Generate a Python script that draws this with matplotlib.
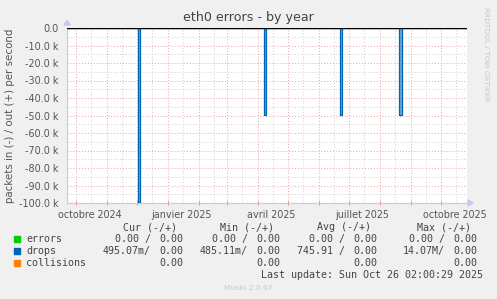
import numpy as np
import matplotlib
matplotlib.use('Agg')
import matplotlib.pyplot as plt
import matplotlib.dates as mdates
from datetime import datetime, timedelta

# drops spikes (in = negative), start / end day and value (packets/s)
spike_start = ['2024-12-02', '2025-04-07', '2025-06-22', '2025-08-20']
spike_end = ['2024-12-04', '2025-04-09', '2025-06-24', '2025-08-23']
spike_drops = [-99500, -49500, -49500, -49500]

yticks = [0, -10000, -20000, -30000, -40000, -50000, -60000, -70000, -80000, -90000, -100000]
ytick_labels = ['0.0', '-10.0 k', '-20.0 k', '-30.0 k', '-40.0 k', '-50.0 k',
                '-60.0 k', '-70.0 k', '-80.0 k', '-90.0 k', '-100.0 k']
xtick_dates = ['2024-10-15', '2025-01-15', '2025-04-15', '2025-07-15', '2025-10-15']
xtick_labels = ['octobre 2024', 'janvier 2025', 'avril 2025', 'juillet 2025', 'octobre 2025']

legend_names = ['errors', 'drops', 'collisions']
legend_colors = ['#00CC00', '#0066B3', '#FF8000']
cur_vals = [('0.00 /', '0.00'), ('495.07m/', '0.00'), ('', '0.00')]
min_vals = [('0.00 /', '0.00'), ('485.11m/', '0.00'), ('', '0.00')]
avg_vals = [('0.00 /', '0.00'), ('745.91 /', '0.00'), ('', '0.00')]
max_vals = [('0.00 /', '0.00'), ('14.07M/', '0.00'), ('', '0.00')]
last_update = 'Last update: Sun Oct 26 02:00:29 2025'

W, H = 497, 299
fig = plt.figure(figsize=(W / 100, H / 100), dpi=100, facecolor='#F0F0F0')


def px(x, y):
    return x / W, 1 - y / H


ax = fig.add_axes([67 / W, (H - 203) / H, 400 / W, 175 / H])
ax.set_facecolor('white')

t0 = datetime(2024, 9, 22, 12)
t1 = t0 + timedelta(days=400)
ax.set_xlim(mdates.date2num(t0), mdates.date2num(t1))
ax.set_ylim(-100000, 0)

# grid: red at month starts / 10k, grey in between
month_starts = []
d = datetime(2024, 9, 1)
while d < t1:
    xm = mdates.date2num(d)
    xh = mdates.date2num(d + timedelta(days=15))
    if xm > ax.get_xlim()[0]:
        month_starts.append(xm)
    ax.axvline(xm, color='#e9a3a3', lw=0.7, ls=(0, (1, 2)), zorder=1)
    ax.axvline(xh, color='#cfcfcf', lw=0.7, ls=(0, (1, 2)), zorder=1)
    d = datetime(d.year + (d.month // 12), d.month % 12 + 1, 1)
for v in range(0, -100001, -5000):
    c = '#e9a3a3' if v % 10000 == 0 else '#cfcfcf'
    ax.axhline(v, color=c, lw=0.7, ls=(0, (1, 2)), zorder=1)

# drops series as steps
xs = [mdates.date2num(t0)]
ys = [0]
for s, e, v in zip(spike_start, spike_end, spike_drops):
    xs_ = mdates.date2num(datetime.fromisoformat(s))
    xe_ = mdates.date2num(datetime.fromisoformat(e))
    xs += [xs_, xs_, xe_, xe_]
    ys += [0, v, v, 0]
xs.append(mdates.date2num(t1))
ys.append(0)
ax.fill_between(xs, ys, 0, color='#6fa6d8', lw=0, zorder=2)
ax.plot(xs, ys, color='#0066B3', lw=0.9, zorder=3)
ax.axhline(0, color='black', lw=1.0, zorder=4)

for sp in ['top', 'right']:
    ax.spines[sp].set_visible(False)
ax.spines['left'].set_color('#c8c8e8')
ax.spines['bottom'].set_color('#c8c8e8')
ax.spines['left'].set_linewidth(0.8)
ax.spines['bottom'].set_linewidth(0.8)

ax.set_yticks(yticks)
ax.set_yticklabels(ytick_labels)
ax.set_xticks([mdates.date2num(datetime.fromisoformat(s)) for s in xtick_dates])
ax.set_xticklabels(xtick_labels)
ax.set_xticks(month_starts, minor=True)
ax.tick_params(length=0, labelsize=6.9, labelcolor='#555555')
ax.tick_params(axis='x', which='minor', length=3, direction='inout',
               color='#e08080', width=0.7)
ax.tick_params(axis='y', pad=6)
ax.tick_params(axis='x', pad=5)

# axis arrows
fig.patches.append(plt.Polygon([px(64, 25), px(70, 25), px(67, 20)], closed=True,
                               transform=fig.transFigure, color='#c8c8f8'))
fig.patches.append(plt.Polygon([px(468, 200), px(468, 206), px(473, 203)], closed=True,
                               transform=fig.transFigure, color='#c8c8f8'))

fig.text(*px(248, 18), 'eth0 errors - by year', ha='center', va='center',
         fontsize=9.1, color='#444444')
fig.text(*px(10, 116), 'packets in (-) / out (+) per second', rotation=90,
         ha='center', va='center', fontsize=7.4, color='#555555')
fig.text(*px(486, 54), 'RRDTOOL / TOBI OETIKER', rotation=270, ha='center',
         va='center', fontsize=5.3, color='#c8c8c8')
fig.text(*px(248, 288), 'Munin 2.0.67', ha='center', va='center',
         fontsize=5.3, color='#c8c8c8')

mono = dict(family='DejaVu Sans Mono', fontsize=7.2, color='#444444', va='center')
row_y = [239, 251, 263]
col_right = [183, 280, 377, 477]
headers = ['Cur (-/+)', 'Min (-/+)', 'Avg (-/+)', 'Max (-/+)']
for cr, hd in zip(col_right, headers):
    fig.text(*px(cr - 6, 227), hd, ha='right', **mono)
for i, name in enumerate(legend_names):
    y = row_y[i]
    fig.patches.append(plt.Rectangle(px(14, y + 3), 6 / W, 6 / H,
                                     transform=fig.transFigure, color=legend_colors[i]))
    fig.text(*px(26, y), name, ha='left', **mono)
    for cr, vals in zip(col_right, [cur_vals, min_vals, avg_vals, max_vals]):
        neg, pos = vals[i]
        fig.text(*px(cr, y), pos, ha='right', **mono)
        if neg:
            fig.text(*px(cr - 32, y), neg, ha='right', **mono)
fig.text(*px(483, 275), last_update, ha='right', **mono)

fig.savefig('out.png', dpi=100, facecolor=fig.get_facecolor())
